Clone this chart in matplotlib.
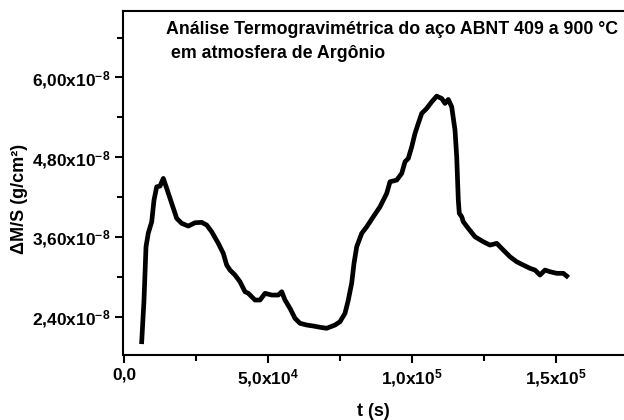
import matplotlib
matplotlib.use("Agg")
import matplotlib.pyplot as plt
from matplotlib.ticker import FixedLocator, FixedFormatter
import numpy as np

plt.rcParams['font.family'] = ['Liberation Sans', 'DejaVu Sans']
plt.rcParams['font.weight'] = 'bold'
plt.rcParams['mathtext.fontset'] = 'custom'
plt.rcParams['mathtext.default'] = 'bf'
plt.rcParams['mathtext.bf'] = 'Liberation Sans:bold'
plt.rcParams['mathtext.rm'] = 'Liberation Sans:bold'

# tempo (s) e ganho de massa por area (x1e-8 g/cm2)
t_s = [6146, 6944, 7639, 8437, 9617, 10416, 11353, 12499, 13645, 14825,
       16561, 18297, 20033, 22325, 24651, 26977, 28713, 30449, 32741, 34477,
       35657, 36802, 38538, 40275, 42011, 43157, 45483, 47219, 48955, 51281,
       53573, 54754, 55900, 57636, 59372, 61107, 63434, 65725, 68051, 70378,
       73259, 74995, 76731, 77877, 79058, 79856, 80794, 82530, 84266, 86558,
       88883, 91210, 92355, 94682, 96418, 97563, 98709, 99889, 101035, 102180,
       103361, 105097, 106833, 108569, 110305, 111451, 112597, 113778, 114923, 115514,
       116069, 116416, 117250, 117805, 119541, 121867, 124749, 127075, 129401, 131693,
       134019, 136345, 138637, 140963, 142699, 144435, 146171, 147907, 150233, 152525,
       153705]
dm_s = [2.024, 2.651, 3.453, 3.659, 3.829, 4.155, 4.355, 4.365, 4.481, 4.331,
        4.105, 3.880, 3.805, 3.764, 3.814, 3.820, 3.779, 3.678, 3.504, 3.353,
        3.177, 3.102, 3.027, 2.926, 2.776, 2.752, 2.651, 2.651, 2.752, 2.726,
        2.726, 2.776, 2.651, 2.526, 2.376, 2.301, 2.275, 2.260, 2.241, 2.226,
        2.275, 2.325, 2.451, 2.651, 2.907, 3.203, 3.453, 3.654, 3.753, 3.904,
        4.054, 4.256, 4.430, 4.456, 4.556, 4.731, 4.782, 4.956, 5.158, 5.308,
        5.459, 5.534, 5.633, 5.719, 5.684, 5.609, 5.669, 5.558, 5.208, 4.806,
        4.155, 3.955, 3.904, 3.829, 3.729, 3.603, 3.528, 3.478, 3.504, 3.403,
        3.302, 3.227, 3.177, 3.128, 3.102, 3.027, 3.102, 3.077, 3.053, 3.053,
        3.012]

x_ticks = [0, 5e4, 1e5, 1.5e5]
x_labels = ["0,0", "5,0x10$^{4}$", "1,0x10$^{5}$", "1,5x10$^{5}$"]
x_minor = [2.5e4, 7.5e4, 1.25e5]
y_ticks = [2.4e-8, 3.6e-8, 4.8e-8, 6.0e-8]
y_labels = ["2,40x10$^{-8}$", "3,60x10$^{-8}$", "4,80x10$^{-8}$", "6,00x10$^{-8}$"]
y_minor = [3.0e-8, 4.2e-8, 5.4e-8, 6.6e-8]

fig = plt.figure(figsize=(6.24, 4.2), dpi=100)
ax = fig.add_axes([123 / 624, 65 / 420, 501 / 624, 344 / 420])

ax.plot(t_s, np.array(dm_s) * 1e-8, color='black', lw=3.4)

ax.set_xlim(-350, 173600)
ax.set_ylim(1.824e-8, 7.0e-8)

ax.xaxis.set_major_locator(FixedLocator(x_ticks))
ax.xaxis.set_major_formatter(FixedFormatter(x_labels))
ax.xaxis.set_minor_locator(FixedLocator(x_minor))
ax.yaxis.set_major_locator(FixedLocator(y_ticks))
ax.yaxis.set_major_formatter(FixedFormatter(y_labels))
ax.yaxis.set_minor_locator(FixedLocator(y_minor))

ax.tick_params(which='major', direction='out', length=6, width=1.5, labelsize=12.5, pad=3)
ax.tick_params(which='minor', direction='out', length=4, width=1.5)

for s in ['left', 'bottom', 'top']:
    ax.spines[s].set_linewidth(1.5)
ax.spines['right'].set_visible(False)

ax.set_xlabel("t (s)", fontsize=13, fontweight='bold')
ax.xaxis.set_label_coords(0.5, -0.14)
ax.set_ylabel("ΔM/S (g/cm²)", fontsize=13, fontweight='bold')
ax.yaxis.set_label_coords(-0.19, 0.455)

fig.text(166 / 624, 1 - 21 / 420,
         "Análise Termogravimétrica do aço ABNT 409 a 900 °C\n em atmosfera de Argônio",
         fontsize=12.8, fontweight='bold', ha='left', va='top', linespacing=1.5)

fig.savefig("out.png", dpi=100)
